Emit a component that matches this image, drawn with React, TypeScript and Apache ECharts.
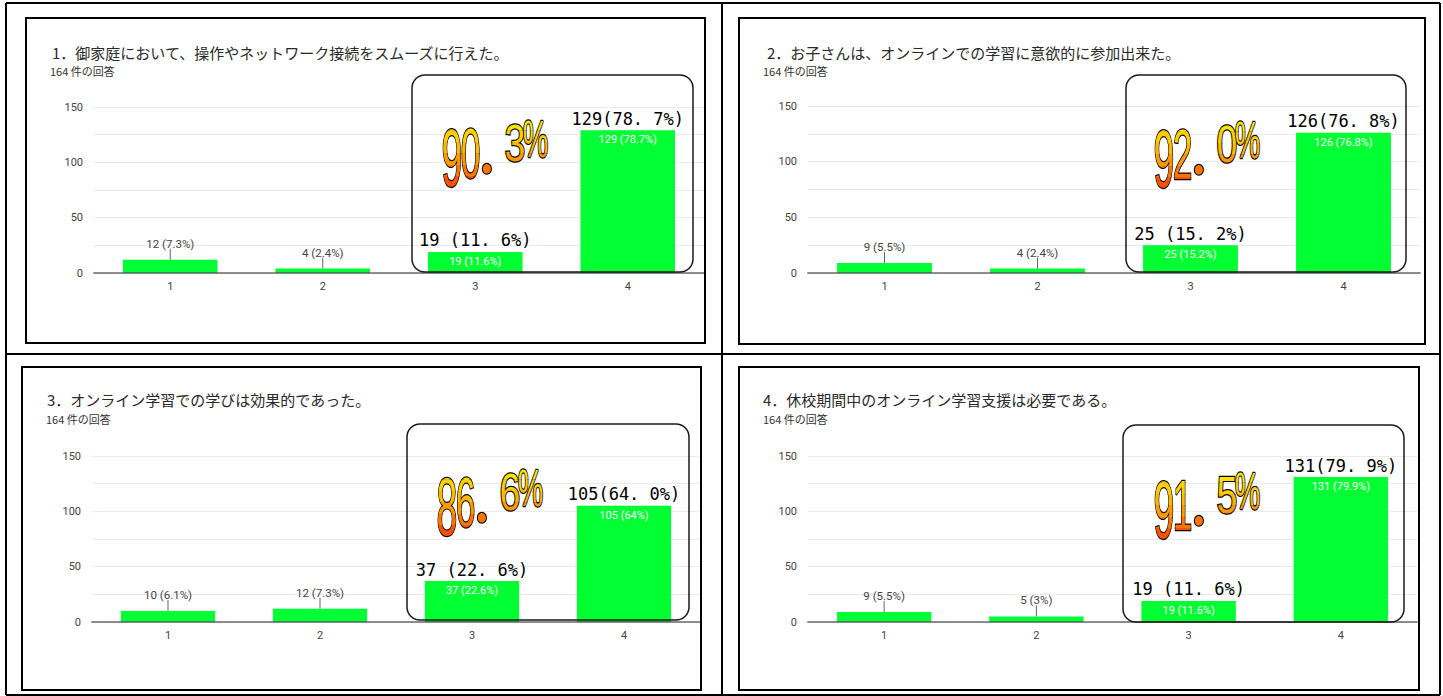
import { useEffect, useRef } from 'react';
import * as echarts from 'echarts';

// ---------- data ----------
const categories = ['1', '2', '3', '4'];
const questionTitles = [
  '1．御家庭において、操作やネットワーク接続をスムーズに行えた。',
  '2．お子さんは、オンラインでの学習に意欲的に参加出来た。',
  '3．オンライン学習での学びは効果的であった。',
  '4．休校期間中のオンライン学習支援は必要である。',
];
const responseCount = '164 件の回答';

const q1Values = [12, 4, 19, 129];
const q2Values = [9, 4, 25, 126];
const q3Values = [10, 12, 37, 105];
const q4Values = [9, 5, 19, 131];

const q1Labels = ['12 (7.3%)', '4 (2.4%)', '19 (11.6%)', '129 (78.7%)'];
const q2Labels = ['9 (5.5%)', '4 (2.4%)', '25 (15.2%)', '126 (76.8%)'];
const q3Labels = ['10 (6.1%)', '12 (7.3%)', '37 (22.6%)', '105 (64%)'];
const q4Labels = ['9 (5.5%)', '5 (3%)', '19 (11.6%)', '131 (79.9%)'];

const q1Callouts = ['', '', '19 (11. 6%)', '129(78. 7%)'];
const q2Callouts = ['', '', '25 (15. 2%)', '126(76. 8%)'];
const q3Callouts = ['', '', '37 (22. 6%)', '105(64. 0%)'];
const q4Callouts = ['', '', '19 (11. 6%)', '131(79. 9%)'];

const positiveTotals = ['90. 3%', '92. 0%', '86. 6%', '91. 5%'];

const yAxisMax = 150;
const yAxisStep = 25;
const yLabelStep = 50;

// ---------- layout (positions / styles) ----------
const PANELS = [
  { box: [26, 18, 705, 343], grid: [94, 107, 610, 166], title: [52, 52], note: [50, 71], frame: [412, 75, 693, 272], art: [443, 128] },
  { box: [739, 18, 1425, 344], grid: [808, 106, 612, 167], title: [767, 52], note: [763, 71], frame: [1126, 75, 1406, 272], art: [1155, 129] },
  { box: [22, 367, 701, 690], grid: [92, 456, 608, 166], title: [47, 399], note: [46, 419], frame: [407, 424, 689, 620], art: [438, 477] },
  { box: [739, 367, 1419, 690], grid: [808, 456, 609, 166], title: [763, 399], note: [763, 419], frame: [1123, 425, 1404, 622], art: [1155, 480] },
];
const ART_SLOTS = [
  [0, 18, 0, 58],
  [19, 36, 0, 50],
  [40, 48, 35, 45],
  [63, 81, -4, 33],
  [81, 104, -8, 29],
];
const ART_BANDS = 6;
const BAR_COLOR = '#00FF33';
const INSIDE_MIN = 15;
const AXIS_FONT = 'Roboto, "Liberation Sans", sans-serif';
const JP_FONT = '"Noto Sans CJK JP", "Noto Sans", sans-serif';

const valueSets = [q1Values, q2Values, q3Values, q4Values];
const labelSets = [q1Labels, q2Labels, q3Labels, q4Labels];
const calloutSets = [q1Callouts, q2Callouts, q3Callouts, q4Callouts];

const GRAD: [number, number[]][] = [
  [0, [255, 238, 0]],
  [0.5, [255, 172, 0]],
  [1, [255, 60, 0]],
];

function gradColor(t: number) {
  const tt = Math.max(0, Math.min(1, t));
  for (let i = 0; i < GRAD.length - 1; i++) {
    const [a, ca] = GRAD[i];
    const [b, cb] = GRAD[i + 1];
    if (tt <= b) {
      const f = (tt - a) / (b - a);
      const c = ca.map((v, k) => Math.round(v + (cb[k] - v) * f));
      return `rgb(${c[0]},${c[1]},${c[2]})`;
    }
  }
  const c = GRAD[GRAD.length - 1][1];
  return `rgb(${c[0]},${c[1]},${c[2]})`;
}

// WordArt-like total: each glyph condensed, painted in horizontal colour bands
function artChildren(text: string, ox: number, oy: number) {
  const chars = text.replace(/\s/g, '').split('');
  const gTop = oy - 9;
  const gBot = oy + 60;
  const bandH = (gBot - gTop) / ART_BANDS;
  const out: any[] = [];
  chars.forEach((ch, i) => {
    const [sx0, sx1, sy0, sy1] = ART_SLOTS[Math.min(i, ART_SLOTS.length - 1)];
    const isDot = ch === '.';
    const F = isDot ? 76 : (sy1 - sy0) / 0.716;
    const inkW = ch === '%' ? 0.8 : 0.48;
    const sx = isDot ? 0.85 : (sx1 - sx0) / (inkW * F);
    const baseline = oy + sy1;
    const central = isDot ? 0.387 : 0.3465;
    const cy = baseline - central * F;
    const cx = ox + (sx0 + sx1) / 2;
    const family = isDot ? 'Lato, "Liberation Sans", sans-serif' : '"Liberation Sans", Arial, sans-serif';
    const inkTop = oy + sy0 - 3;
    const inkBot = oy + sy1 + 3;
    for (let b = 0; b < ART_BANDS; b++) {
      const y0 = gTop + b * bandH;
      const y1 = y0 + bandH;
      if (y1 < inkTop || y0 > inkBot) continue;
      const top = b === 0 ? y0 - 20 : y0;
      const bottom = b === ART_BANDS - 1 ? y1 + 20 : y1 + 0.6;
      out.push({
        type: 'text',
        x: cx,
        y: cy,
        scaleX: sx,
        silent: true,
        style: {
          text: ch,
          font: `${F.toFixed(1)}px ${family}`,
          fill: gradColor((b + 0.5) / ART_BANDS),
          stroke: '#000',
          lineWidth: 2.4,
          align: 'center',
          verticalAlign: 'middle',
        },
        clipPath: {
          type: 'rect',
          shape: { x: -2000, y: top - cy, width: 4000, height: bottom - top },
        },
      });
    }
  });
  return out;
}

function buildGraphics() {
  const els: any[] = [];
  const black = { stroke: '#000', lineWidth: 2 };
  const tableLines = [
    [6, 3, 1440, 3],
    [6, 695, 1440, 695],
    [6, 3, 6, 695],
    [1440, 3, 1440, 695],
    [722, 3, 722, 695],
    [6, 354, 1440, 354],
  ];
  tableLines.forEach(([x1, y1, x2, y2]) =>
    els.push({ type: 'line', z: 120, silent: true, shape: { x1, y1, x2, y2 }, style: black })
  );
  PANELS.forEach((p, i) => {
    const [bx0, by0, bx1, by1] = p.box;
    els.push({ type: 'rect', z: 120, silent: true, shape: { x: bx0, y: by0, width: bx1 - bx0, height: by1 - by0 }, style: { fill: 'none', ...black } });
    els.push({
      type: 'text', z: 50, silent: true, x: p.title[0], y: p.title[1],
      style: { text: questionTitles[i], font: `15px ${JP_FONT}`, fill: '#2a2a2a', align: 'left', verticalAlign: 'middle' },
    });
    els.push({
      type: 'text', z: 50, silent: true, x: p.note[0], y: p.note[1],
      style: { text: responseCount, font: `11px ${JP_FONT}`, fill: '#333', align: 'left', verticalAlign: 'middle' },
    });
    const [fx0, fy0, fx1, fy1] = p.frame;
    els.push({
      type: 'rect', z: 100, silent: true,
      shape: { x: fx0, y: fy0, width: fx1 - fx0, height: fy1 - fy0, r: 13 },
      style: { fill: 'none', stroke: '#1a1a1a', lineWidth: 1.5 },
    });
  });
  return els;
}

function buildOption(): any {
  return {
    animation: false,
    backgroundColor: '#ffffff',
    grid: PANELS.map((p) => ({ left: p.grid[0], top: p.grid[1], width: p.grid[2], height: p.grid[3] })),
    xAxis: PANELS.map((_, i) => ({
      type: 'category',
      gridIndex: i,
      data: categories,
      z: 5,
      axisLine: { lineStyle: { color: 'rgba(70,70,70,0.6)', width: 2 } },
      axisTick: { show: false },
      axisLabel: { color: '#444', fontSize: 11, fontFamily: AXIS_FONT, margin: 8 },
    })),
    yAxis: PANELS.map((_, i) => ({
      type: 'value',
      gridIndex: i,
      min: 0,
      max: yAxisMax,
      interval: yAxisStep,
      axisLine: { show: false },
      axisTick: { show: false },
      splitLine: { lineStyle: { color: '#ebebeb', width: 1 } },
      axisLabel: {
        color: '#444',
        fontSize: 11,
        fontFamily: AXIS_FONT,
        margin: 11,
        formatter: (v: number) => (v % yLabelStep === 0 ? String(v) : ''),
      },
    })),
    series: [
      ...valueSets.flatMap((vals, i) => [
        {
          type: 'bar',
          xAxisIndex: i,
          yAxisIndex: i,
          barWidth: '62%',
          barGap: '-100%',
          itemStyle: { color: BAR_COLOR },
          data: vals.map((v, j) => ({
            value: v,
            label:
              v >= INSIDE_MIN
                ? { show: true, position: 'insideTop', distance: 4, color: '#fff', fontSize: 11, fontFamily: AXIS_FONT, formatter: labelSets[i][j] }
                : { show: false },
          })),
        },
        {
          type: 'bar',
          xAxisIndex: i,
          yAxisIndex: i,
          barWidth: '62%',
          barGap: '-100%',
          silent: true,
          z: 4,
          itemStyle: { color: 'rgba(0,0,0,0)' },
          data: vals.map((v, j) => (calloutSets[i][j] ? v : '-')),
          label: {
            show: true,
            position: 'top',
            distance: 3,
            color: '#000',
            fontSize: 17,
            fontFamily: '"DejaVu Sans Mono", "Liberation Mono", monospace',
            formatter: (p: any) => calloutSets[i][p.dataIndex],
          },
        },
        {
          type: 'custom',
          xAxisIndex: i,
          yAxisIndex: i,
          z: 4,
          silent: true,
          encode: { x: 0, y: 1 },
          data: vals.map((v, j) => [j, v]).filter((d) => d[1] < INSIDE_MIN),
          renderItem: (_params: any, api: any) => {
            const idx = api.value(0);
            const top = api.coord([idx, api.value(1)]);
            return {
              type: 'group',
              children: [
                { type: 'line', shape: { x1: top[0], y1: top[1] - 11, x2: top[0], y2: top[1] }, style: { stroke: '#666', lineWidth: 1 } },
                {
                  type: 'text',
                  x: top[0],
                  y: top[1] - 16,
                  style: { text: labelSets[i][idx], fill: '#444', font: `11.5px ${AXIS_FONT}`, align: 'center', verticalAlign: 'middle' },
                },
              ],
            };
          },
        },
      ]),
      {
        type: 'custom',
        coordinateSystem: 'none',
        z: 110,
        silent: true,
        data: positiveTotals.map((_, i) => i),
        renderItem: (params: any) => {
          const i = params.dataIndex;
          const p = PANELS[i];
          return { type: 'group', children: artChildren(positiveTotals[i], p.art[0], p.art[1]) };
        },
      },
    ],
    graphic: { elements: buildGraphics() },
  };
}

export default function App() {
  const ref = useRef<HTMLDivElement>(null);
  useEffect(() => {
    if (!ref.current) return;
    const chart = echarts.init(ref.current, undefined, { renderer: 'svg' });
    chart.setOption(buildOption());
    return () => chart.dispose();
  }, []);
  return (
    <div
      ref={ref}
      style={{ position: 'fixed', left: 0, top: 0, width: 1443, height: 696, background: '#fff' }}
    />
  );
}
